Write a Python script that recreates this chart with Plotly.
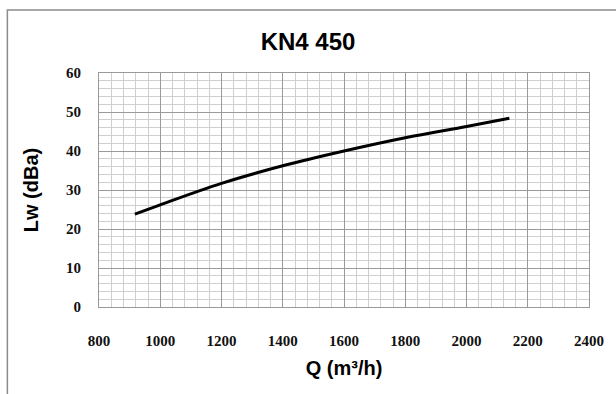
import plotly.graph_objects as go

# Data
q_values = [917, 1000, 1200, 1400, 1600, 1800, 2000, 2140]
lw_values = [23.8, 26.2, 31.7, 36.2, 40.0, 43.4, 46.3, 48.4]

x_ticks = [800, 1000, 1200, 1400, 1600, 1800, 2000, 2200, 2400]
y_ticks = [0, 10, 20, 30, 40, 50, 60]

title_text = "KN4 450"
x_title = "Q (m³/h)"
y_title = "Lw (dBa)"

W, H = 616, 394
L, R, T, B = 99, 25, 73, 87

fig = go.Figure()
fig.add_trace(go.Scatter(
    x=q_values, y=lw_values, mode="lines",
    line=dict(color="black", width=3, shape="spline"),
    showlegend=False, hoverinfo="x+y",
))

major_col = "#9a9a9a"
minor_col = "#cfcfcf"
tick_font = dict(family="Liberation Serif", size=15, color="#111", weight="bold")
title_font = dict(family="Liberation Sans", size=20, color="black", weight="bold")

fig.update_xaxes(
    range=[800, 2400], tickvals=x_ticks, ticktext=[str(v) for v in x_ticks],
    showgrid=True, gridcolor=major_col, gridwidth=1,
    minor=dict(dtick=40, showgrid=True, gridcolor=minor_col, gridwidth=1),
    showline=True, linecolor=major_col, linewidth=1, mirror=True,
    zeroline=False, tickfont=tick_font, ticklabelstandoff=20,
    title=dict(text=x_title, font=title_font, standoff=12),
)
fig.update_yaxes(
    range=[0, 60], tickvals=y_ticks, ticktext=[str(v) for v in y_ticks],
    showgrid=True, gridcolor=major_col, gridwidth=1,
    minor=dict(dtick=2, showgrid=True, gridcolor=minor_col, gridwidth=1),
    showline=True, linecolor=major_col, linewidth=1, mirror=True,
    zeroline=False, tickfont=tick_font, ticklabelstandoff=14,
    title=dict(text=y_title, font=title_font, standoff=22),
)

# outer chart frame (extends beyond right and bottom edges)
pw = W - L - R
ph = H - T - B
def px_to_paper_x(px):
    return (px - L) / pw
def px_to_paper_y(py):
    return (H - B - py) / ph

fig.add_shape(type="rect", xref="paper", yref="paper",
              x0=px_to_paper_x(7), x1=px_to_paper_x(640),
              y0=px_to_paper_y(420), y1=px_to_paper_y(10),
              line=dict(color="#8c8c8c", width=1.5), fillcolor="rgba(0,0,0,0)",
              layer="below")

fig.update_layout(
    width=W, height=H,
    margin=dict(l=L, r=R, t=T, b=B),
    paper_bgcolor="white", plot_bgcolor="white",
    title=dict(text=title_text, x=0.5, xanchor="center", y=1 - 42 / H, yanchor="middle",
               font=dict(family="Liberation Sans", size=24, color="black", weight="bold")),
)

fig.write_html("out.html", config={"displayModeBar": False},
               post_script="document.body.style.margin='0';")
